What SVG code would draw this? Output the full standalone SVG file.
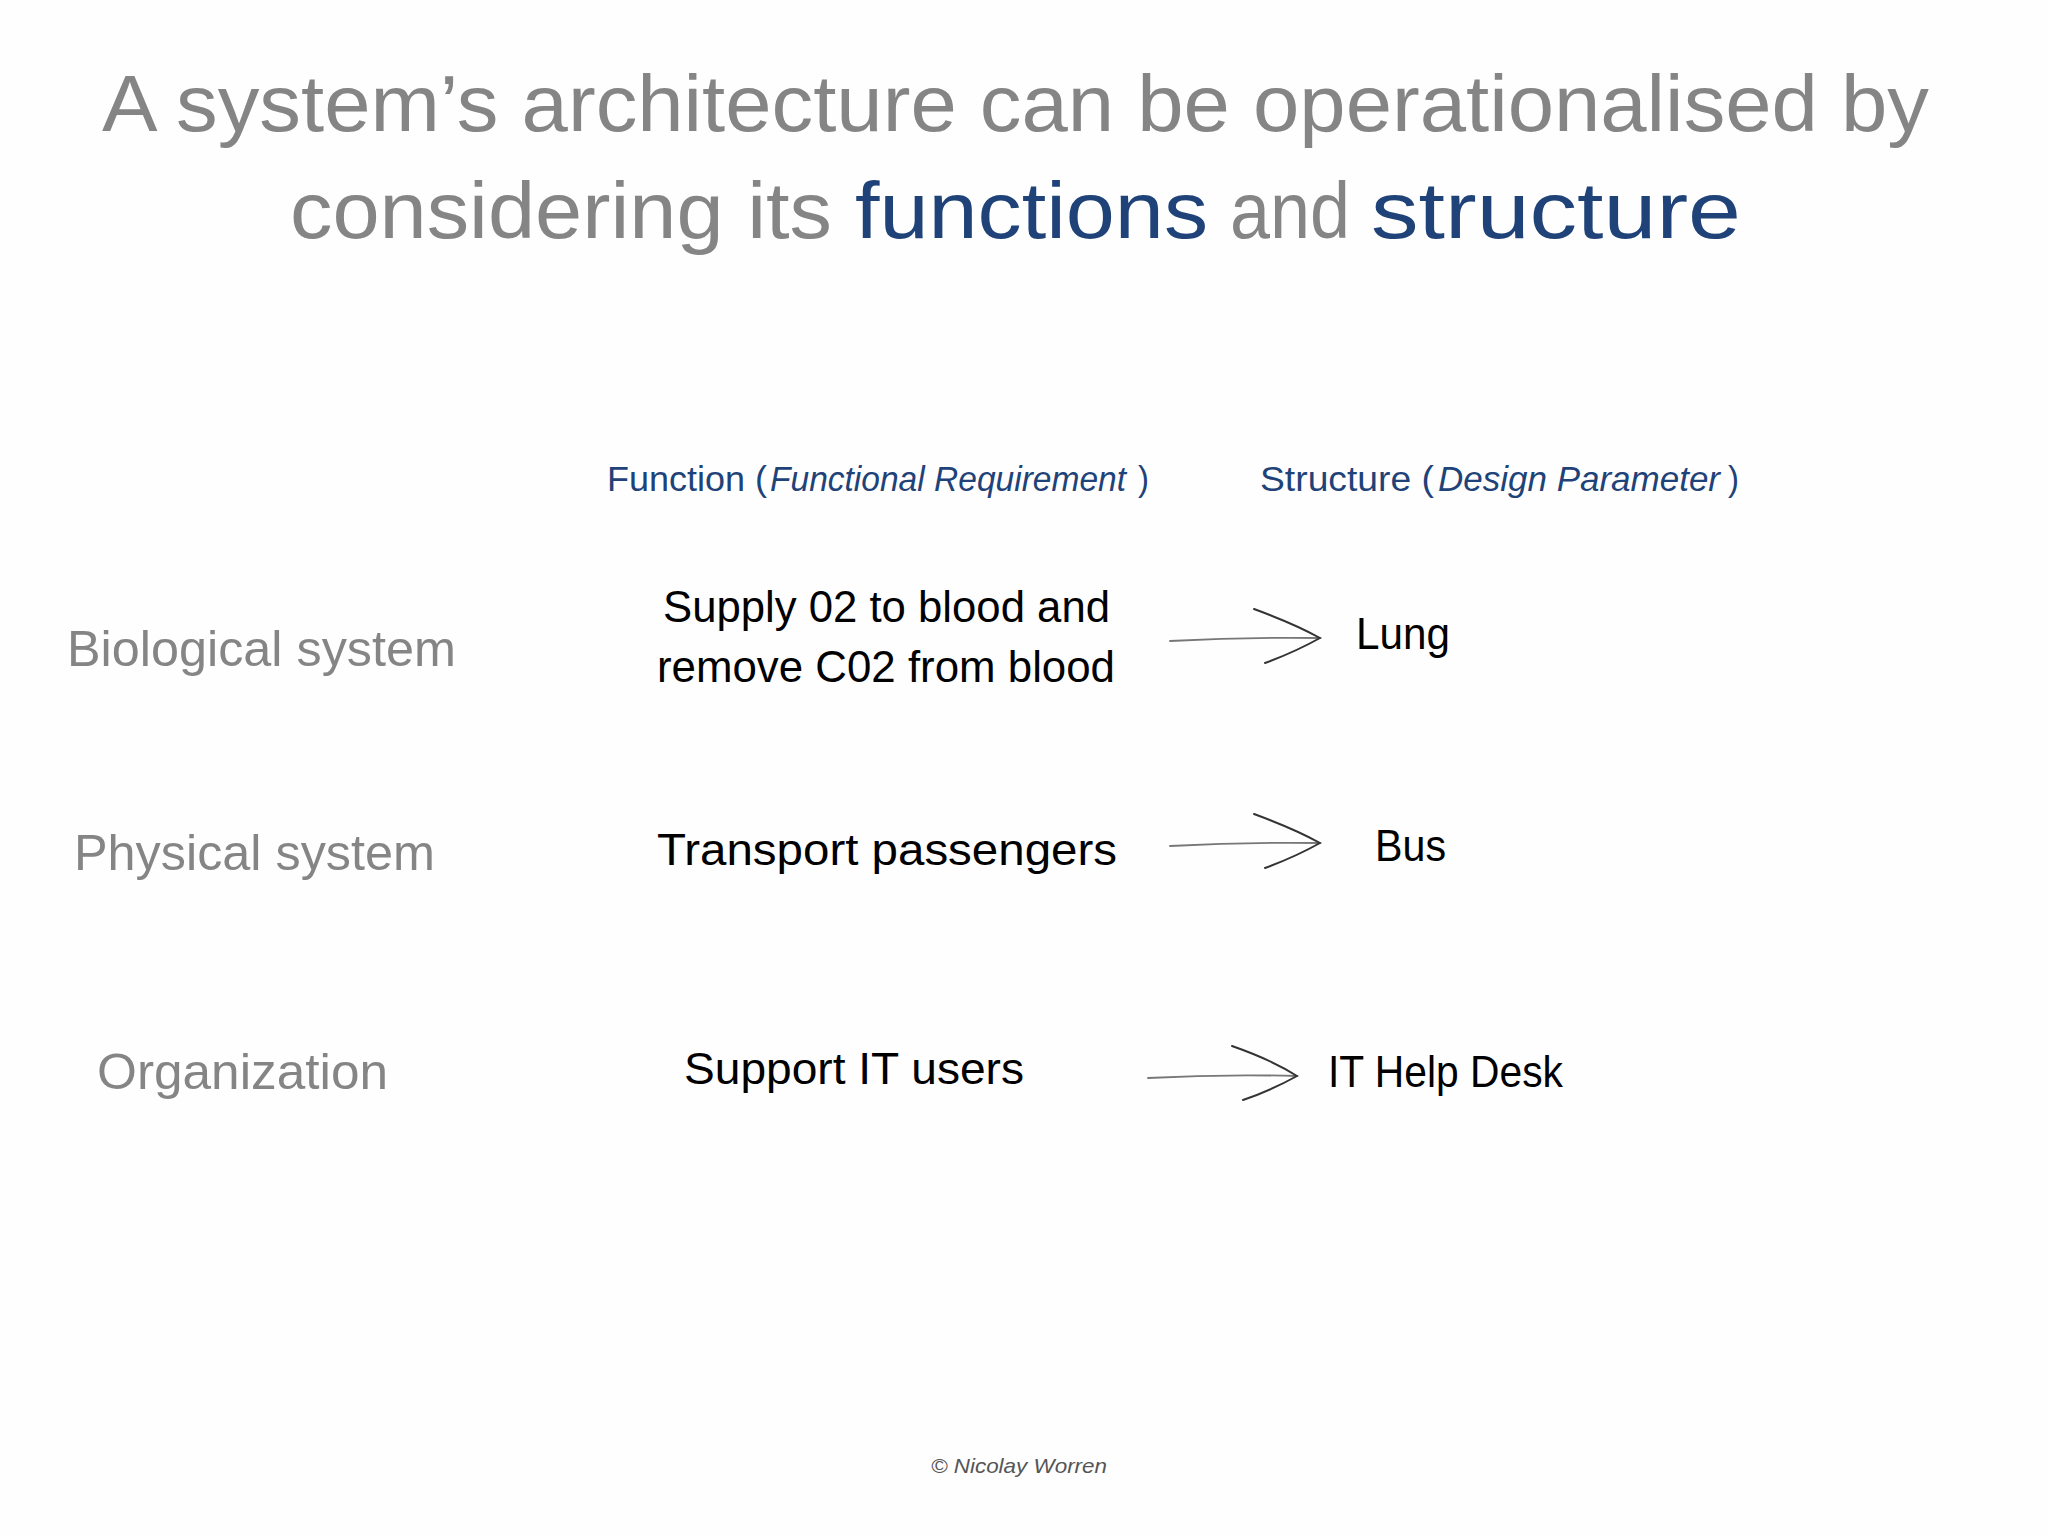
<svg xmlns="http://www.w3.org/2000/svg" width="2048" height="1536" viewBox="0 0 2048 1536">
<style>
text{font-family:"Liberation Sans","DejaVu Sans",sans-serif;}
.title{font-size:80px;fill:#858585;}
.hl{fill:#1f4378;}
.hdr{font-size:35px;fill:#1f4378;}
.it{font-style:italic;}
.row{font-size:50px;fill:#858585;}
.fn{font-size:44px;fill:#000;}
.st{font-size:44px;fill:#000;}
.copy{font-size:21px;fill:#555;font-style:italic;}
.arr{fill:none;stroke:#333;stroke-width:2;stroke-linecap:round;}
.shaft{fill:none;stroke:#777;stroke-width:1.8;stroke-linecap:round;}
</style>
<rect width="2048" height="1536" fill="#fefefe"/>
<g id="title">
<text class="title" x="102" y="131" textLength="1827" lengthAdjust="spacingAndGlyphs">A system’s architecture can be operationalised by</text>
<text class="title" y="238"><tspan x="290" textLength="542" lengthAdjust="spacingAndGlyphs">considering its</tspan><tspan class="hl" x="855" textLength="353" lengthAdjust="spacingAndGlyphs">functions</tspan><tspan x="1230" textLength="120" lengthAdjust="spacingAndGlyphs">and</tspan><tspan class="hl" x="1371" textLength="370" lengthAdjust="spacingAndGlyphs">structure</tspan></text>
</g>
<g id="header-function">
<text class="hdr" y="491"><tspan x="607" textLength="160" lengthAdjust="spacingAndGlyphs">Function (</tspan><tspan class="it" x="770" textLength="356" lengthAdjust="spacingAndGlyphs">Functional Requirement</tspan><tspan x="1138" textLength="11" lengthAdjust="spacingAndGlyphs">)</tspan></text>
</g>
<g id="header-structure">
<text class="hdr" y="491"><tspan x="1260" textLength="174" lengthAdjust="spacingAndGlyphs">Structure (</tspan><tspan class="it" x="1438" textLength="282" lengthAdjust="spacingAndGlyphs">Design Parameter</tspan><tspan x="1728" textLength="11" lengthAdjust="spacingAndGlyphs">)</tspan></text>
</g>
<g id="row-biological">
<text class="row" x="67" y="666" textLength="389" lengthAdjust="spacingAndGlyphs">Biological system</text>
</g>
<g id="row-physical">
<text class="row" x="74" y="870" textLength="361" lengthAdjust="spacingAndGlyphs">Physical system</text>
</g>
<g id="row-organization">
<text class="row" x="97" y="1089" textLength="291" lengthAdjust="spacingAndGlyphs">Organization</text>
</g>
<g id="fn-biological">
<text class="fn" x="663" y="622" textLength="447" lengthAdjust="spacingAndGlyphs">Supply 02 to blood and</text>
<text class="fn" x="657" y="682" textLength="458" lengthAdjust="spacingAndGlyphs">remove C02 from blood</text>
</g>
<g id="fn-physical">
<text class="fn" x="657" y="865" textLength="460" lengthAdjust="spacingAndGlyphs">Transport passengers</text>
</g>
<g id="fn-organization">
<text class="fn" x="684" y="1084" textLength="340" lengthAdjust="spacingAndGlyphs">Support IT users</text>
</g>
<g id="st-lung">
<text class="st" x="1356" y="649" textLength="94" lengthAdjust="spacingAndGlyphs">Lung</text>
</g>
<g id="st-bus">
<text class="st" x="1375" y="861" textLength="71" lengthAdjust="spacingAndGlyphs">Bus</text>
</g>
<g id="st-helpdesk">
<text class="st" x="1328" y="1087" textLength="235" lengthAdjust="spacingAndGlyphs">IT Help Desk</text>
</g>
<g id="connectors">
<path class="shaft" d="M1170,641 Q1245,637 1320,638"/>
<path class="arr" d="M1254,609 Q1295,624 1320,638 Q1295,652 1265,663"/>
<path class="shaft" d="M1170,846 Q1245,842 1320,843"/>
<path class="arr" d="M1254,814 Q1295,829 1320,843 Q1295,857 1265,868"/>
<path class="shaft" d="M1148,1078 Q1222,1074 1297,1076"/>
<path class="arr" d="M1232,1046 Q1272,1060 1297,1076 Q1272,1090 1243,1100"/>
</g>
<g id="copyright">
<text class="copy" x="931" y="1473" textLength="176" lengthAdjust="spacingAndGlyphs">© Nicolay Worren</text>
</g>
</svg>
